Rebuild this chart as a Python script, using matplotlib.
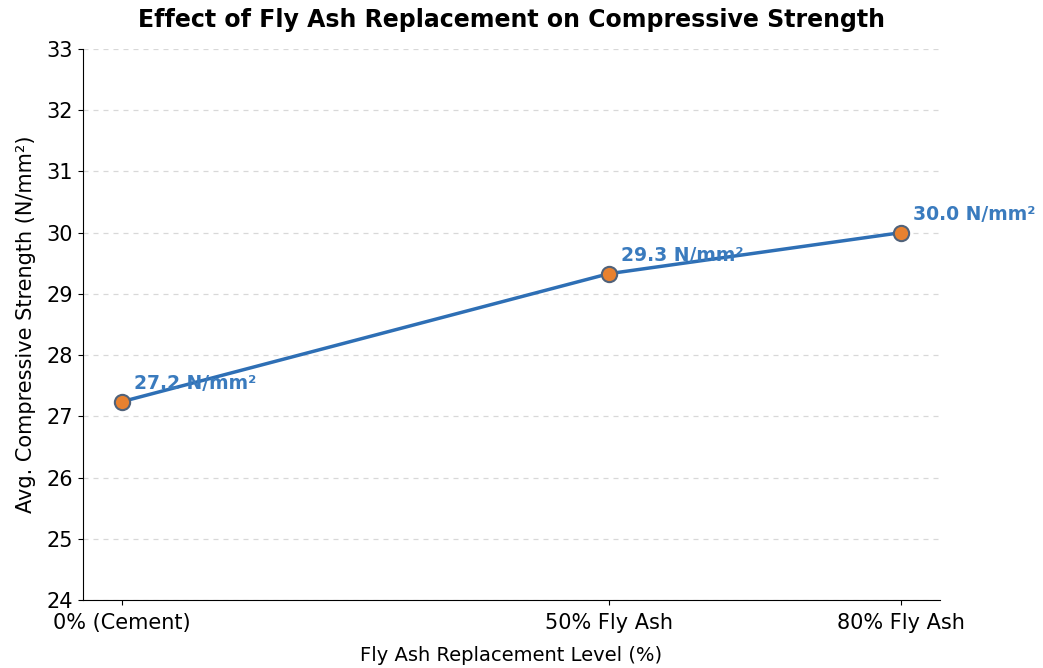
import matplotlib
matplotlib.use("Agg")
import matplotlib.pyplot as plt

levels = [0, 50, 80]
tick_labels = ["0% (Cement)", "50% Fly Ash", "80% Fly Ash"]
strength = [27.24, 29.33, 30.0]
point_labels = ["27.2 N/mm²", "29.3 N/mm²", "30.0 N/mm²"]

fig = plt.figure(figsize=(10.43, 6.68), dpi=100)
ax = fig.add_axes([0.0796, 0.1018, 0.8214, 0.8248])

line_color = "#2E6FB5"
ax.plot(levels, strength, color=line_color, linewidth=2.5, marker="o",
        markersize=11, markerfacecolor="#E8812F", markeredgecolor="#50627A",
        markeredgewidth=1.5, zorder=3)

for x, y, t in zip(levels, strength, point_labels):
    ax.annotate(t, (x, y), xytext=(9, 6), textcoords="offset points",
                ha="left", va="bottom", fontsize=13.5, fontweight="bold",
                color="#3A7BBE")

ax.set_xticks(levels)
ax.set_xticklabels(tick_labels, fontsize=15)
ax.set_xlim(-4, 84)
ax.set_ylim(24, 33)
ax.set_yticks(range(24, 34))
ax.tick_params(axis="y", labelsize=15)
ax.tick_params(axis="x", pad=6)
ax.yaxis.grid(True, linestyle=(0, (4, 4)), color="#d8d8d8", linewidth=0.9)
ax.set_axisbelow(True)
for s in ["top", "right"]:
    ax.spines[s].set_visible(False)

ax.set_xlabel("Fly Ash Replacement Level (%)", fontsize=14, labelpad=9)
ax.set_ylabel("Avg. Compressive Strength (N/mm²)", fontsize=15, labelpad=8)
ax.set_title("Effect of Fly Ash Replacement on Compressive Strength",
             fontsize=17, fontweight="bold", pad=16)

fig.savefig("out.png", dpi=100)
